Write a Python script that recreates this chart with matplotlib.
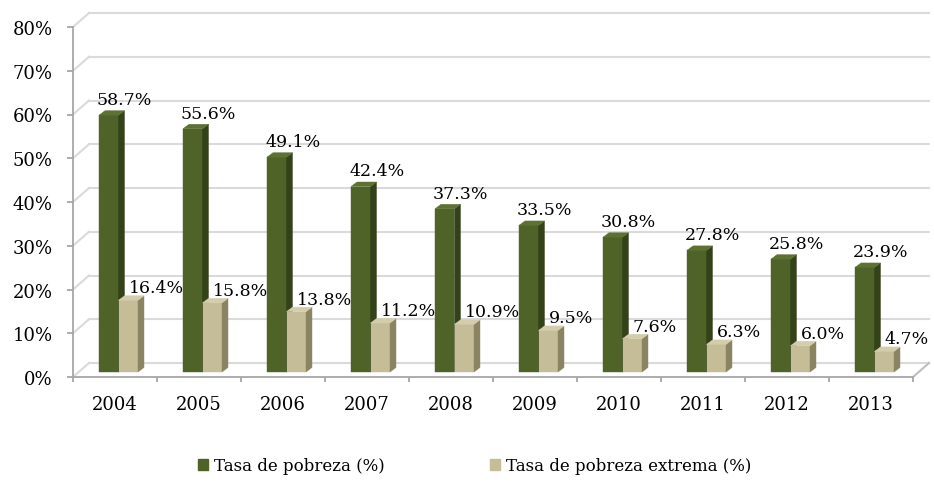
import matplotlib
matplotlib.use("Agg")
import matplotlib.pyplot as plt
from matplotlib.patches import Polygon, Patch

years = ["2004", "2005", "2006", "2007", "2008", "2009", "2010", "2011", "2012", "2013"]
pobreza = [58.7, 55.6, 49.1, 42.4, 37.3, 33.5, 30.8, 27.8, 25.8, 23.9]
extrema = [16.4, 15.8, 13.8, 11.2, 10.9, 9.5, 7.6, 6.3, 6.0, 4.7]
series_names = ["Tasa de pobreza (%)", "Tasa de pobreza extrema (%)"]
yticks = [0, 10, 20, 30, 40, 50, 60, 70, 80]

plt.rcParams['font.family'] = ["DejaVu Serif"]
FS_TICK = 13
FS_VAL = 12.5
FS_LEG = 12

W, H = 934, 489
fig = plt.figure(figsize=(W / 100, H / 100), dpi=100)
# front plane: x px 73..913, y px 28..378
ax = fig.add_axes([73 / W, (H - 378) / H, 840 / W, 350 / H])
ax.set_xlim(-0.5, 9.5)
ax.set_ylim(0, 80)

PX_X = 1 / 84.0       # data units per pixel (x)
PX_Y = 80 / 350.0     # data units per pixel (y)

# wall offset
dxw, dyw = 16 * PX_X, 14 * PX_Y
grid_c = "#dadada"
for v in yticks:
    ax.plot([-0.5, -0.5 + dxw], [v, v + dyw], color=grid_c, lw=1.5, clip_on=False, zorder=1)
    ax.plot([-0.5 + dxw, 9.5 + dxw], [v + dyw, v + dyw], color=grid_c, lw=1.5, clip_on=False, zorder=1)
ax.plot([9.5, 9.5 + dxw], [0, dyw], color="#bfbfbf", lw=1.5, clip_on=False, zorder=1)

# bars
bw = 19.5 * PX_X
sx, sy = 3.5 * PX_X, 5 * PX_Y
ddx, ddy = 6 * PX_X, 4.5 * PX_Y

def bar3d(x0, h, front, side, top):
    y0 = sy
    y1 = sy + h
    x1 = x0 + bw
    ax.add_patch(Polygon([(x0, y0), (x1, y0), (x1, y1), (x0, y1)], closed=True,
                         facecolor=front, edgecolor=front, lw=0.3, zorder=3, clip_on=False))
    ax.add_patch(Polygon([(x1, y0), (x1 + ddx, y0 + ddy), (x1 + ddx, y1 + ddy), (x1, y1)], closed=True,
                         facecolor=side, edgecolor=side, lw=0.3, zorder=3, clip_on=False))
    ax.add_patch(Polygon([(x0, y1), (x1, y1), (x1 + ddx, y1 + ddy), (x0 + ddx, y1 + ddy)], closed=True,
                         facecolor=top, edgecolor=top, lw=0.3, zorder=3, clip_on=False))

g_front, g_side, g_top = "#4f6228", "#34421a", "#5d7133"
t_front, t_side, t_top = "#c4bd97", "#8a8462", "#d3cdac"

for i, (p, e) in enumerate(zip(pobreza, extrema)):
    gl = i - bw + sx
    tl = i + sx
    bar3d(gl, p, g_front, g_side, g_top)
    bar3d(tl, e, t_front, t_side, t_top)
    ax.annotate(f"{p:.1f}%", xy=(gl, sy + p), xytext=(-2 * 0.72, 11 * 0.72),
                textcoords="offset points", ha="left", va="baseline", fontsize=FS_VAL, zorder=5,
                annotation_clip=False)
    ax.annotate(f"{e:.1f}%", xy=(tl, sy + e), xytext=(10 * 0.72, 8 * 0.72),
                textcoords="offset points", ha="left", va="baseline", fontsize=FS_VAL, zorder=5,
                annotation_clip=False)

# axes styling
for s in ["top", "right"]:
    ax.spines[s].set_visible(False)
ax.spines["left"].set_color("#a6a6a6")
ax.spines["bottom"].set_color("#a6a6a6")
ax.spines["left"].set_linewidth(1.3)
ax.spines["bottom"].set_linewidth(1.3)
ax.spines["left"].set_zorder(2)
ax.spines["bottom"].set_zorder(2)
ax.set_facecolor("none")

ax.set_yticks(yticks)
ax.set_yticklabels([f"{v}%" for v in yticks], fontsize=FS_TICK)
ax.tick_params(axis="y", direction="out", length=4.3, color="#a6a6a6", width=1.3, pad=10.5)

ax.set_xticks([i - 0.5 for i in range(len(years) + 1)])
ax.set_xticklabels([])
ax.tick_params(axis="x", which="major", direction="out", length=3.5, color="#a6a6a6", width=1.3)
ax.set_xticks(range(len(years)), minor=True)
ax.set_xticklabels(years, minor=True, fontsize=FS_TICK)
ax.tick_params(axis="x", which="minor", length=0, pad=13)

handles = [Patch(facecolor=g_front, edgecolor=g_front), Patch(facecolor=t_front, edgecolor=t_front)]
fig.legend(handles, series_names, loc="center", bbox_to_anchor=(474.5 / W, 1 - 467 / H),
           ncol=2, frameon=False, fontsize=FS_LEG, handlelength=0.6, handleheight=0.6,
           handletextpad=0.35, columnspacing=6.3)

fig.savefig("out.png", dpi=100)
